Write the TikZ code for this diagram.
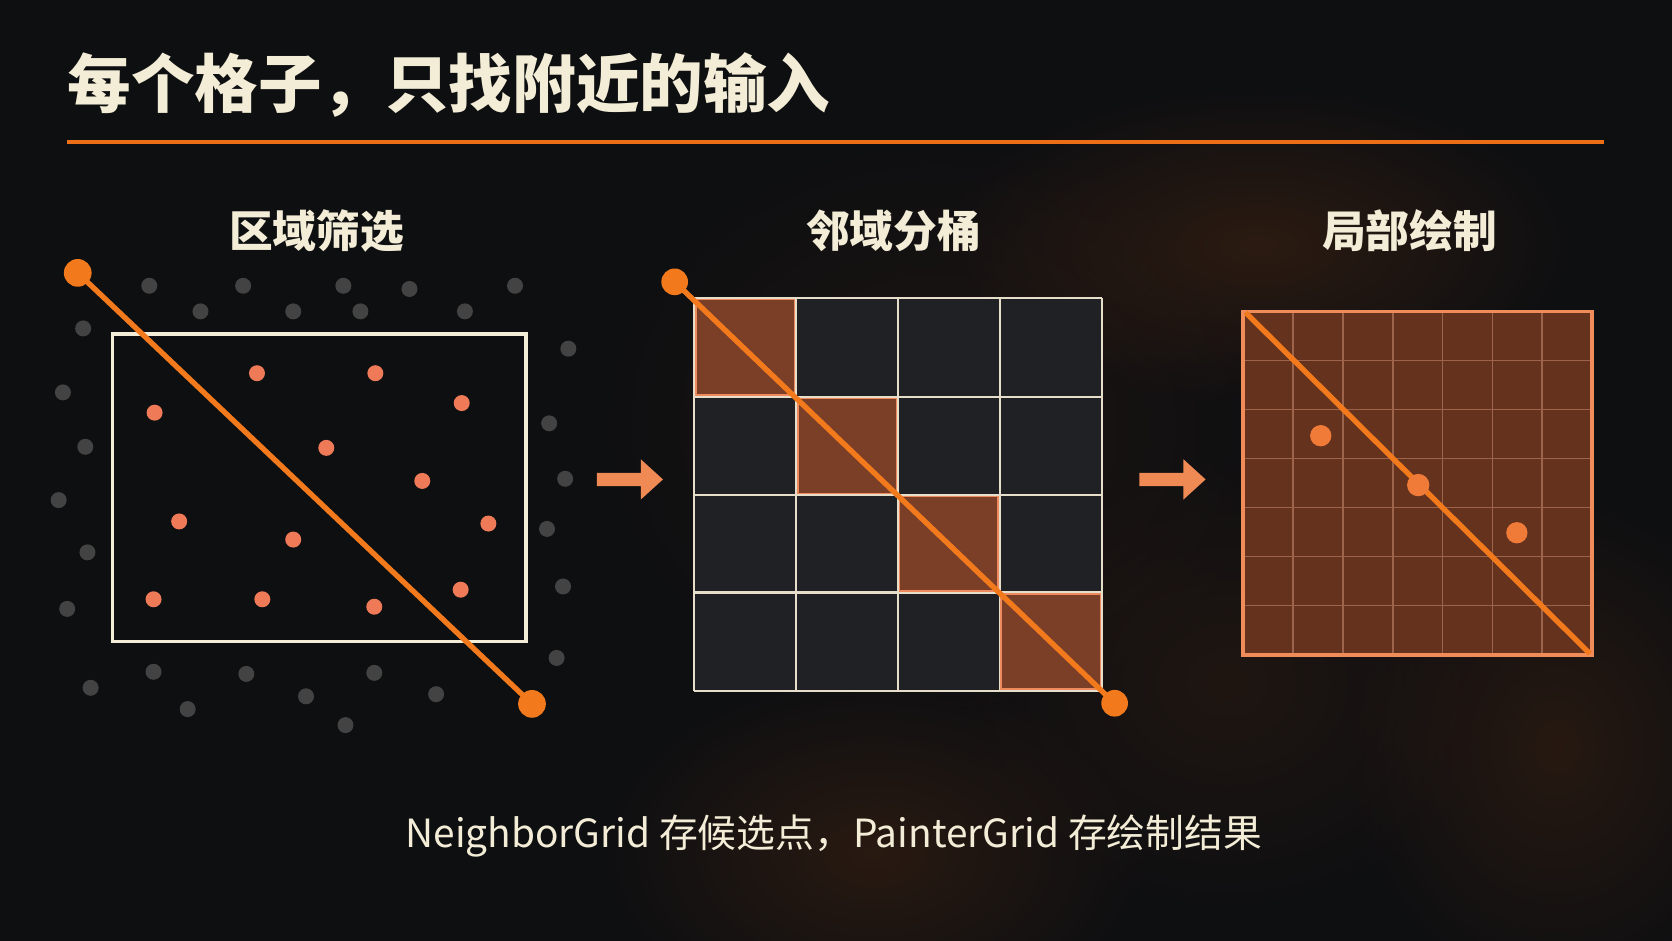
\documentclass[tikz,border=0pt]{standalone}
\usepackage{fontspec}
\setmainfont{Noto Sans CJK SC}
\usetikzlibrary{fadings}
\definecolor{bg}{HTML}{0E0F11}
\definecolor{cream}{HTML}{F3ECD6}
\definecolor{rule}{HTML}{EC6E16}
\definecolor{seg}{HTML}{F27A1C}
\definecolor{coral}{HTML}{EE7A58}
\definecolor{graydot}{HTML}{434343}
\definecolor{arrowc}{HTML}{F08A55}
\definecolor{cell}{HTML}{202124}
\definecolor{gridline}{HTML}{E6DECA}
\definecolor{diagcell}{HTML}{7B3F28}
\definecolor{diagedge}{HTML}{EE8B5E}
\definecolor{pfill}{HTML}{65321D}
\definecolor{pgrid}{HTML}{9E644B}
\definecolor{pedge}{HTML}{F08C5A}
\definecolor{pdot}{HTML}{F07A38}
\definecolor{smoke}{HTML}{5A2E12}
\tikzfading[name=softblob, inner color=transparent!35, outer color=transparent!100]
\tikzset{
  titletext/.style={inner sep=0pt, text=cream, font=\bfseries\fontsize{29.8}{32}\selectfont, anchor=base west},
  headtext/.style={inner sep=0pt, text=cream, font=\bfseries\fontsize{20.5}{24}\selectfont, anchor=base},
  captext/.style={inner sep=0pt, text=cream, font=\fontsize{18.2}{21}\selectfont, anchor=base},
  segline/.style={draw=seg, line width=2.5pt},
  enddot/.style={fill=seg},
  blockarrow/.style={fill=arrowc},
  blob/.style={fill=smoke, path fading=softblob},
}
\begin{document}
\begin{tikzpicture}[x=0.5pt,y=-0.5pt]
\fill[bg] (0,0) rectangle (1568,882);
\useasboundingbox (0,0) rectangle (1568,882);
% background smoke
\fill[blob, opacity=0.6] (1180,230) ellipse [x radius=300, y radius=150];
\fill[blob, opacity=0.55] (820,800) ellipse [x radius=260, y radius=170];
\fill[blob, opacity=0.5] (1460,700) ellipse [x radius=200, y radius=240];
\fill[blob, opacity=0.30] (880,400) ellipse [x radius=330, y radius=280];
\fill[blob, opacity=0.35] (1150,640) ellipse [x radius=260, y radius=220];

% title
\node[titletext] (title) at (63,101) {每个格子，只找附近的输入};
\coordinate (ruleL) at (63,133);
\coordinate (ruleR) at (1504,133);
\draw[rule, line width=1.6pt] (ruleL) -- (ruleR);

% headings
\node[headtext] (h1) at (297,232) {区域筛选};
\node[headtext] (h2) at (838,232) {邻域分桶};
\node[headtext] (h3) at (1322,232) {局部绘制};

% ---------- panel 1 ----------
\foreach \x/\y in {140/268,228/268,322/268,384/271,483/268,188/292,275/292,338/292,436/292,
  78/308,533/327,59/368,515/397,80/419,530/449,55/469,513/496,82/518,528/550,63/571,522/617,
  144/630,231/632,351/631,409/651,85/645,176/665,287/653,324/680}
  \fill[graydot] (\x,\y) circle (7.5);
\draw[cream, line width=1.75pt] (105.5,313) rectangle (493.5,601.5);
\foreach \x/\y in {241/350,352/350,145/387,433/378,306/420,396/451,168/489,275/506,458/491,
  144/562,246/562,351/569,432/553}
  \fill[coral] (\x,\y) circle (7.5);
\coordinate (a1) at (72.9,255.9);
\coordinate (b1) at (498.9,660.1);
\draw[segline] (a1) -- (b1);
\fill[enddot] (a1) circle (13);
\fill[enddot] (b1) circle (13);

% arrows
\fill[blockarrow] (559.7,443.5) -- (600.9,443.5) -- (600.9,430.7) -- (621.7,449.6) -- (600.9,468.5) -- (600.9,456.0) -- (559.7,456.0) -- cycle;
\fill[blockarrow] (1068.6,443.5) -- (1109.8,443.5) -- (1109.8,430.7) -- (1130.6,449.6) -- (1109.8,468.5) -- (1109.8,456.0) -- (1068.6,456.0) -- cycle;

% ---------- panel 2 ----------
\def\cx{{651.1,746.6,842.1,937.4,1033.6}}
\def\cy{{279.4,372.1,464.2,555.6,647.8}}
\fill[cell] (651.1,279.4) rectangle (1033.6,647.8);
\foreach \i in {0,1,2,3}{
  \pgfmathsetmacro\xa{\cx[\i]}\pgfmathsetmacro\xb{\cx[\i+1]}
  \pgfmathsetmacro\ya{\cy[\i]}\pgfmathsetmacro\yb{\cy[\i+1]}
  \fill[diagcell] (\xa,\ya) rectangle (\xb,\yb);
}
\foreach \i in {0,...,4}{
  \pgfmathsetmacro\xa{\cx[\i]}\pgfmathsetmacro\ya{\cy[\i]}
  \draw[gridline, line width=1pt] (\xa,279.4) -- (\xa,647.8);
  \draw[gridline, line width=1pt] (651.1,\ya) -- (1033.6,\ya);
}
\foreach \i in {0,1,2,3}{
  \pgfmathsetmacro\xa{\cx[\i]+1.5}\pgfmathsetmacro\xb{\cx[\i+1]-1.5}
  \pgfmathsetmacro\ya{\cy[\i]+1.5}\pgfmathsetmacro\yb{\cy[\i+1]-1.5}
  \draw[diagedge, line width=0.8pt] (\xa,\ya) rectangle (\xb,\yb);
}
\coordinate (a2) at (632.7,264.3);
\coordinate (b2) at (1045.3,659.5);
\draw[segline] (a2) -- (b2);
\fill[enddot] (a2) circle (12.5);
\fill[enddot] (b2) circle (12.5);

% ---------- panel 3 ----------
\fill[pfill] (1166,292) rectangle (1493,614);
\foreach \k in {1,...,6}{
  \draw[pgrid, line width=0.7pt] ({1166+\k*327/7},292) -- ({1166+\k*327/7},614);
  \draw[pgrid, line width=0.7pt] (1166,{292+\k*322/7}) -- (1493,{292+\k*322/7});
}
\draw[pedge, line width=1.75pt] (1166,292) rectangle (1493,614);
\coordinate (a3) at (1168,293);
\coordinate (b3) at (1491,613);
\draw[segline] (a3) -- (b3);
\fill[pdot] (1238.6,408.6) circle (10);
\fill[pdot] (1330,454.9) circle (10.5);
\fill[pdot] (1422.5,499.6) circle (10);

% caption
\node[captext] (cap) at (782,795) {NeighborGrid 存候选点，PainterGrid 存绘制结果};
\end{tikzpicture}
\end{document}
